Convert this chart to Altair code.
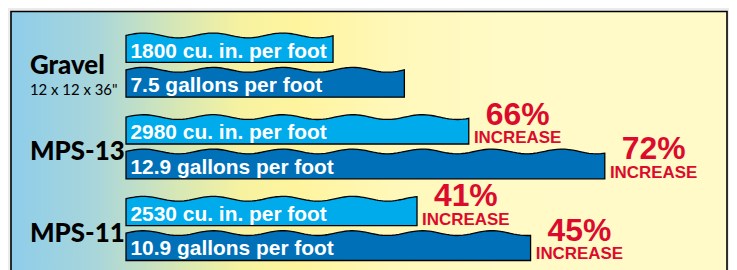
import altair as alt
import pandas as pd

# ---------------- data ----------------
categories = ["Gravel", "MPS-13", "MPS-11"]
subtitles = ['12 x 12 x 36"', "", ""]
cu_in_per_foot = [1800, 2980, 2530]
gallons_per_foot = [7.5, 12.9, 10.9]
cu_labels = ["1800 cu. in. per foot", "2980 cu. in. per foot", "2530 cu. in. per foot"]
gal_labels = ["7.5 gallons per foot", "12.9 gallons per foot", "10.9 gallons per foot"]
cu_increase = ["", "66%", "41%"]
gal_increase = ["", "72%", "45%"]

# ---------------- layout / style ----------------
W, H = 724, 262
PITCH = 82
AMP = 2.4
PERIOD = 70
LIGHT = "#00ABEC"
DARK = "#0071B9"
RED = "#DC0A2D"

ys = alt.Scale(domain=[0, H / PITCH], range=[0, H])

rows = list(range(len(categories)))
df_cu = pd.DataFrame({"category": categories, "row": rows, "value": cu_in_per_foot,
                      "label": cu_labels, "pct": cu_increase})
df_gal = pd.DataFrame({"category": categories, "row": rows, "value": gallons_per_foot,
                       "label": gal_labels, "pct": gal_increase})
df_cat = pd.DataFrame({"category": categories, "row": rows, "sub": subtitles})


def series_layers(df, dom, rng, fill, mid, bottom):
    xs = alt.Scale(domain=dom, range=rng)
    kpx = (rng[1] - rng[0]) / (dom[1] - dom[0])
    base = alt.Chart(df)
    wave = (
        base.transform_calculate(seq="sequence(0, 121)")
        .transform_flatten(["seq"])
        .transform_calculate(
            xv="datum.value * datum.seq / 120",
            ytop=f"datum.row + ({mid} - {AMP} * sin(2 * PI * datum.value * datum.seq / 120 * {kpx} / {PERIOD})) / {PITCH}",
            ybot=f"datum.row + {bottom} / {PITCH}",
        )
        .mark_area(fill=fill, stroke="black", strokeWidth=1.3, interpolate="linear",
                   opacity=1, fillOpacity=1, orient="vertical")
        .encode(
            x=alt.X("xv:Q", scale=xs, axis=None),
            y=alt.Y("ytop:Q", scale=ys, axis=None),
            y2="ybot:Q",
            detail="category:N",
        )
    )
    body_center = ((mid + AMP) + bottom) / 2
    text = (
        base.transform_calculate(zero="0", ty=f"datum.row + {body_center + 7.5} / {PITCH}")
        .mark_text(align="left", baseline="alphabetic", font="Liberation Sans",
                   fontWeight="bold", fontSize=21, color="white", dx=4.5)
        .encode(x=alt.X("zero:Q", scale=xs, axis=None),
                y=alt.Y("ty:Q", scale=ys, axis=None),
                text="label:N")
    )
    pct = (
        base.transform_filter("datum.pct != ''")
        .transform_calculate(ty=f"datum.row + {bottom - 19.5} / {PITCH}")
        .mark_text(align="center", baseline="alphabetic", font="Liberation Sans",
                   fontWeight="bold", fontSize=32, color=RED, dx=49)
        .encode(x=alt.X("value:Q", scale=xs, axis=None),
                y=alt.Y("ty:Q", scale=ys, axis=None),
                text="pct:N")
    )
    inc = (
        base.transform_filter("datum.pct != ''")
        .transform_calculate(ty=f"datum.row + {bottom - 1} / {PITCH}")
        .mark_text(align="center", baseline="alphabetic", font="Liberation Sans",
                   fontWeight="bold", fontSize=17, color=RED, dx=49, text="INCREASE")
        .encode(x=alt.X("value:Q", scale=xs, axis=None),
                y=alt.Y("ty:Q", scale=ys, axis=None))
    )
    return [wave, text, pct, inc]


grad = alt.LinearGradient(
    gradient="linear",
    stops=[
        alt.GradientStop(color="#8ECDEA", offset=0.0),
        alt.GradientStop(color="#A9D6DA", offset=0.12),
        alt.GradientStop(color="#D6E7B6", offset=0.23),
        alt.GradientStop(color="#F6F2A0", offset=0.32),
        alt.GradientStop(color="#FFF49E", offset=0.40),
        alt.GradientStop(color="#FFF8BA", offset=0.54),
        alt.GradientStop(color="#FFFAC6", offset=0.68),
        alt.GradientStop(color="#FFFAC8", offset=1.0),
    ],
    x1=0, x2=1, y1=0, y2=0,
)

panel = (
    alt.Chart(pd.DataFrame({"p": [0]}))
    .mark_rect(fill=grad, stroke="black", strokeWidth=1.6)
    .encode(x=alt.value(3), x2=alt.value(722), y=alt.value(3), y2=alt.value(290))
)

cat_main = (
    alt.Chart(df_cat)
    .transform_calculate(ty=f"datum.row + (datum.sub != '' ? 66 : 70) / {PITCH}")
    .mark_text(align="left", baseline="alphabetic", font="Lato", fontWeight=900,
               fontSize=26, color="black")
    .encode(x=alt.value(22), y=alt.Y("ty:Q", scale=ys, axis=None), text="category:N")
)
cat_sub = (
    alt.Chart(df_cat)
    .transform_filter("datum.sub != ''")
    .transform_calculate(ty=f"datum.row + 87 / {PITCH}")
    .mark_text(align="left", baseline="alphabetic", font="Lato", fontSize=15, color="black")
    .encode(x=alt.value(22), y=alt.Y("ty:Q", scale=ys, axis=None), text="sub:N")
)

cu_layers = series_layers(df_cu, [0, 5000], [118.5, 118.5 + 5000 * 0.1155], LIGHT, 27, 54)
gal_layers = series_layers(df_gal, [0, 16], [118.5, 118.5 + 16 * 37.27], DARK, 61.5, 89)

chart = (
    alt.layer(panel, cat_main, cat_sub, *cu_layers, *gal_layers)
    .resolve_scale(x="independent")
    .properties(width=W, height=H, padding=0, background="#EBEBEB",
                autosize=alt.AutoSizeParams(type="none"))
    .configure_view(stroke=None)
)

chart.save("out.html", embed_options={"renderer": "svg", "actions": False})
